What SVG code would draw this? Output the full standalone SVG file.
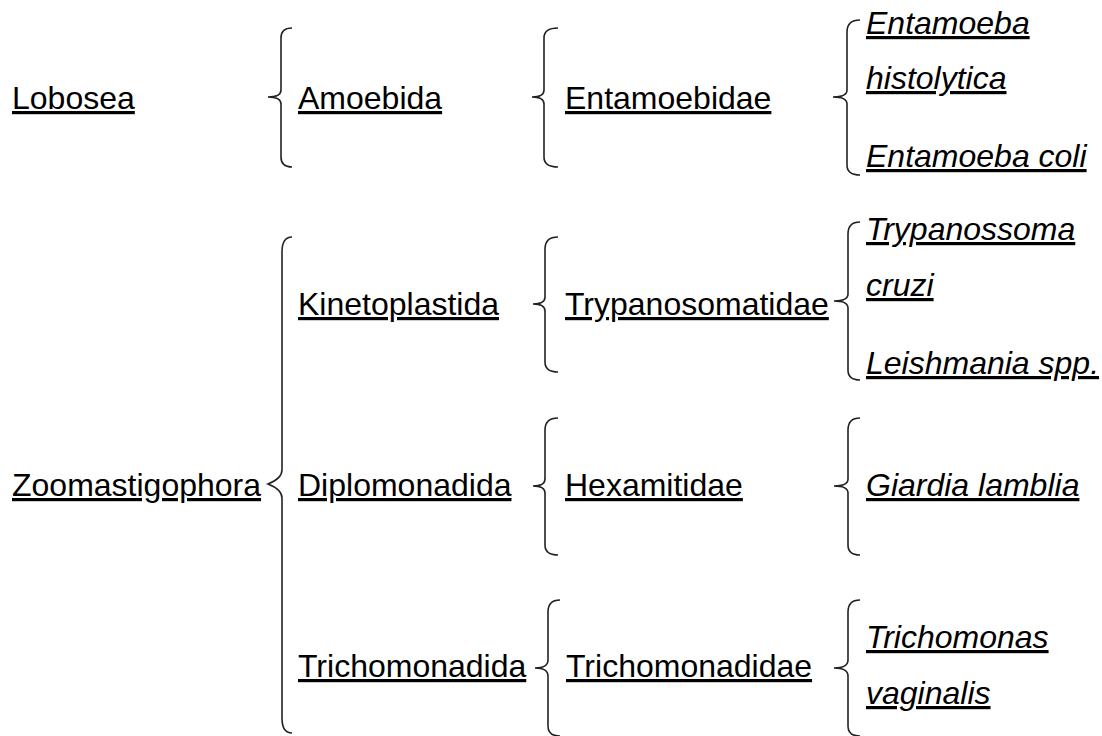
<svg xmlns="http://www.w3.org/2000/svg" width="1102" height="736" viewBox="0 0 1102 736">
<style>
text{font-family:"Liberation Sans",Arial,sans-serif;font-size:32px;fill:#000;text-decoration:underline}
.sp{font-style:italic}
.br{fill:none;stroke:#222;stroke-width:1.6}
</style>
<rect width="1102" height="736" fill="#fff"/>
<g id="connectors">
<path class="br" d="M292,28 C285,28 281,31 281,38 L281,90 C281,95 277,97 268,97 C277,97 281,99 281,104 L281,157 C281,164 285,167 292,167"/>
<path class="br" d="M558,28 C550,28 544,31 544,38 L544,90 C544,95 540,97 532,97 C540,97 544,99 544,104 L544,157 C544,164 550,167 558,167"/>
<path class="br" d="M860,20 C852,20 847,24 847,32 L847,90 C847,95 842,97 833,97 C842,97 847,99 847,104 L847,165 C847,172 852,175 860,175"/>
<path class="br" d="M292,237 C285,237 282,242 282,252 L282,470 C282,476 278,480 268,484 C278,488 282,492 282,498 L282,718 C282,728 285,733 292,733"/>
<path class="br" d="M558,237 C550,237 545,241 545,249 L545,297 C545,302 541,304 533,304 C541,304 545,306 545,311 L545,362 C545,369 550,372 558,372"/>
<path class="br" d="M860,222 C852,222 848,226 848,234 L848,294 C848,299 843,301 834,301 C843,301 848,303 848,308 L848,370 C848,377 852,380 860,380"/>
<path class="br" d="M558,418 C550,418 545,422 545,430 L545,479 C545,484 541,486 533,486 C541,486 545,488 545,493 L545,545 C545,552 550,555 558,555"/>
<path class="br" d="M860,418 C852,418 848,422 848,430 L848,479 C848,484 843,486 834,486 C843,486 848,488 848,493 L848,545 C848,552 852,555 860,555"/>
<path class="br" d="M560,600 C552,600 548,604 548,612 L548,660 C548,665 544,668 535,668 C544,668 548,671 548,676 L548,726 C548,733 552,736 560,736"/>
<path class="br" d="M860,600 C852,600 848,604 848,612 L848,660 C848,665 843,668 834,668 C843,668 848,671 848,676 L848,726 C848,733 852,736 860,736"/>
</g>
<g id="lobosea"><text x="12" y="109">Lobosea</text></g>
<g id="amoebida"><text x="298" y="109">Amoebida</text></g>
<g id="entamoebidae"><text x="565" y="109">Entamoebidae</text></g>
<g id="entamoeba-histolytica"><text class="sp" x="866" y="34">Entamoeba</text><text class="sp" x="866" y="89">histolytica</text></g>
<g id="entamoeba-coli"><text class="sp" x="866" y="167">Entamoeba coli</text></g>
<g id="zoomastigophora"><text x="12" y="496">Zoomastigophora</text></g>
<g id="kinetoplastida"><text x="298" y="315">Kinetoplastida</text></g>
<g id="trypanosomatidae"><text x="565" y="315">Trypanosomatidae</text></g>
<g id="trypanossoma-cruzi"><text class="sp" x="866" y="240">Trypanossoma</text><text class="sp" x="866" y="296">cruzi</text></g>
<g id="leishmania"><text class="sp" x="866" y="374">Leishmania spp.</text></g>
<g id="diplomonadida"><text x="298" y="496">Diplomonadida</text></g>
<g id="hexamitidae"><text x="565" y="496">Hexamitidae</text></g>
<g id="giardia"><text class="sp" x="866" y="496">Giardia lamblia</text></g>
<g id="trichomonadida"><text x="298" y="677">Trichomonadida</text></g>
<g id="trichomonadidae"><text x="566" y="677">Trichomonadidae</text></g>
<g id="trichomonas"><text class="sp" x="866" y="648">Trichomonas</text><text class="sp" x="866" y="704">vaginalis</text></g>
</svg>
